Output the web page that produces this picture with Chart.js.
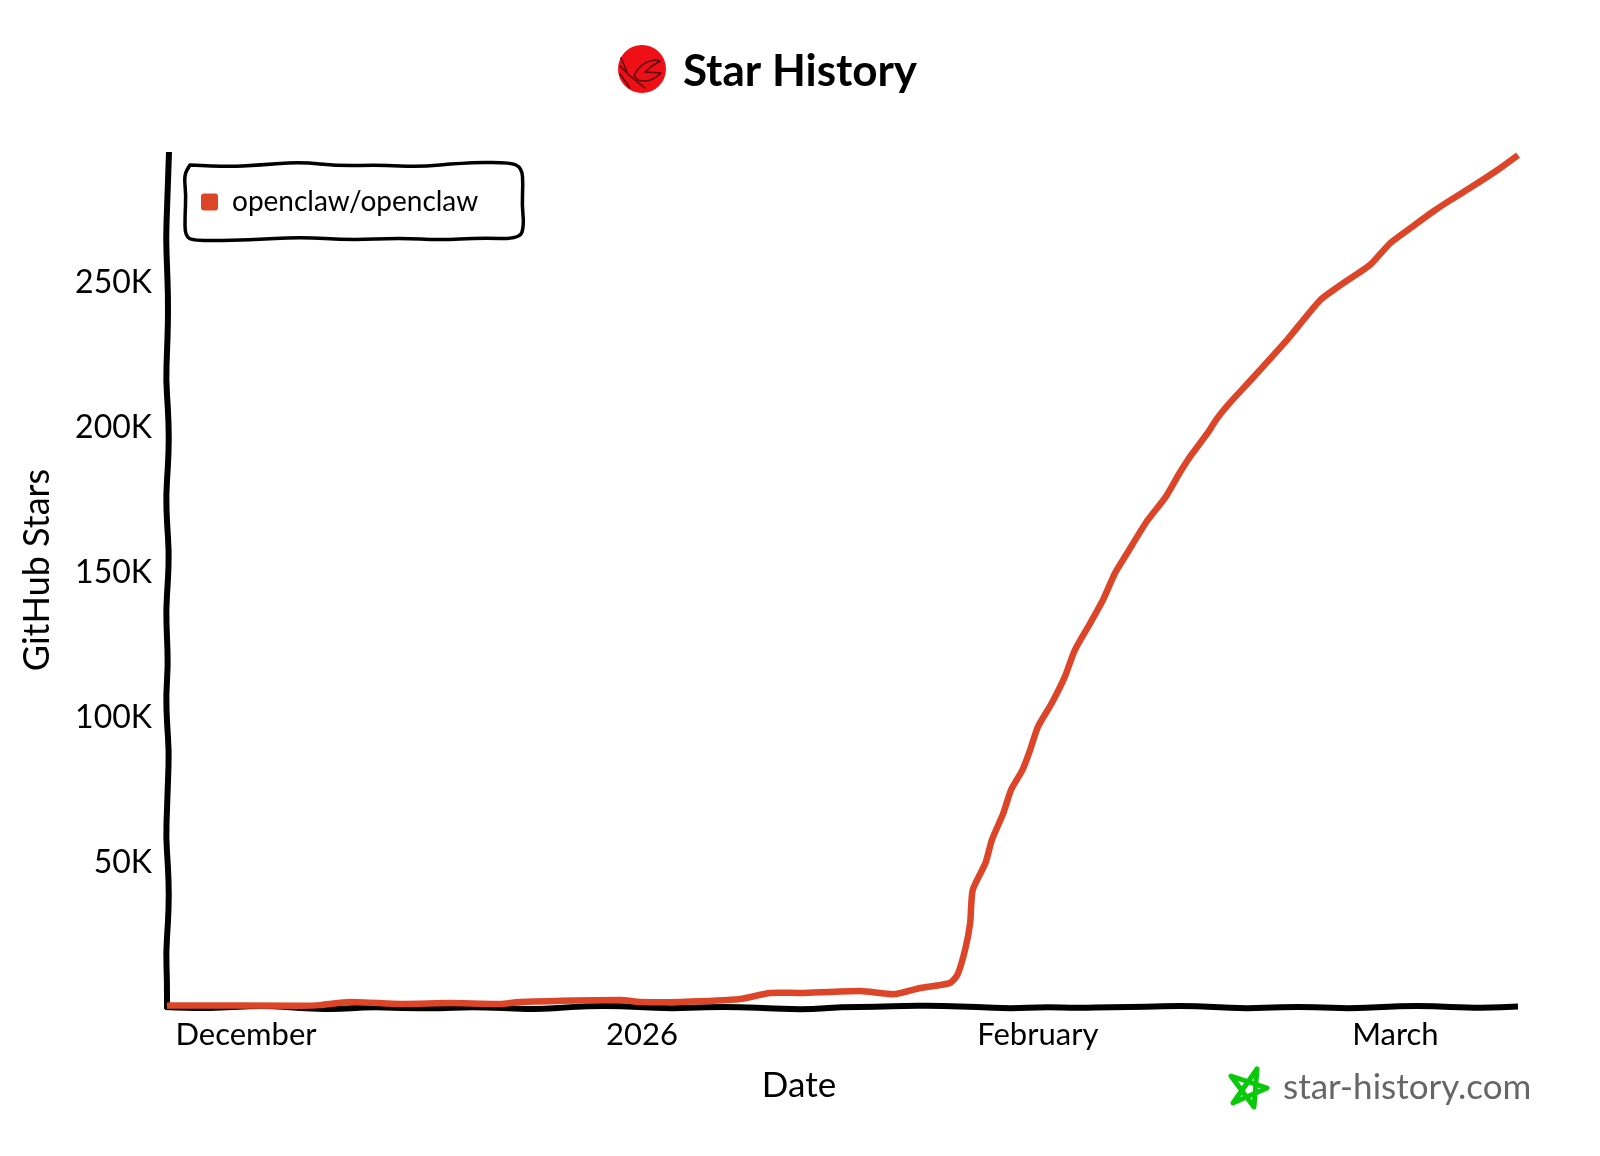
<!DOCTYPE html>
<html><head><meta charset="utf-8">
<script src="https://cdn.jsdelivr.net/npm/chart.js@4"></script>
<style>html,body{margin:0;padding:0;background:#fff}canvas{display:block}</style>
</head><body><canvas id="c" width="1600" height="1156"></canvas>
<script>
// days since 1 December 2025
const days = [-6.19,-5.95,4.23,5.8,8.14,12.06,15.97,19.9,21.46,29.3,30.85,34,38.7,41,43.4,48.1,50.8,52.8,55.1,55.7,56.3,56.7,56.9,57.9,58.4,59.3,59.9,60.8,61.4,62,63.1,64.1,64.9,66.1,67.1,68.05,69,70.5,72,73.1,73.9,75.3,76,77.1,78.9,81.5,84.1,85.7,88,89.6,91.5,92.9,94.3,96.2,98.2,99.6];
// stars, in thousands
const stars = [0.1,0.2,0.1,0.3,1.4,0.7,1.0,0.7,1.4,2.1,1.4,1.4,2.4,4.5,4.5,5.2,4.1,6.2,7.9,10.7,19.3,28.6,40,49.3,57.2,66.5,74.5,81.4,88.3,96.2,104.5,113.4,122.7,132,140,149.3,156.2,166.9,175.5,183.8,189.3,197.6,202.4,208.3,216.9,229.6,243.4,248.6,255.5,263.1,269.3,273.8,277.9,283.1,288.9,293.4];
const seriesName = 'openclaw/openclaw';
const yTicks = [50,100,150,200,250];
const xTickDays = [0,31,62,90];
const xTickLabels = ['December','2026','February','March'];
const FONT = 'Lato';
const INK = '#000';
const RED = '#dd4528';

// small hand-drawn wobble of the axes, in px
const wobbleBottom = [0,1.5,0,-1.5,1,2.5,0,1,1.5,0,1,2.5,0,-1.5,0,1.5,0,0,1.5,2.5,0,0,-1.5,-1,0,1.5,0,1,0,0,-1.5,0,1.5,0,0,1.5,0,-1.5,0,1,-0.5];
const wobbleLeft = [2,1,0,-1,0,1,1,0,-1,1,2,1,-1,0,2,1,-1,0,1,-1,0,2,1,0,-1,1,2,1,-1,0,0];

function smooth(ctx, pts){
  ctx.beginPath();
  ctx.moveTo(pts[0][0],pts[0][1]);
  for(let i=1;i<pts.length-1;i++){
    const mx=(pts[i][0]+pts[i+1][0])/2, my=(pts[i][1]+pts[i+1][1])/2;
    ctx.quadraticCurveTo(pts[i][0],pts[i][1],mx,my);
  }
  const l=pts[pts.length-1];
  ctx.lineTo(l[0],l[1]);
}

const sketchAxes = {
  id:'sketchAxes',
  afterLayout(chart){
    const lg=chart.legend, a=chart.chartArea;
    lg.top=a.top+2; lg.bottom=a.bottom;
    // title is centred on the page, not on the plot
    chart.titleBlock.left=0; chart.titleBlock.right=chart.width;
  },
  beforeDatasetsDraw(chart){
    const {ctx,chartArea:a}=chart;
    ctx.save();
    ctx.strokeStyle=INK; ctx.lineWidth=6; ctx.lineCap='butt'; ctx.lineJoin='round';
    smooth(ctx,wobbleBottom.map((w,i)=>[a.left-2+(a.right-a.left+2)*i/(wobbleBottom.length-1),a.bottom+1+w]));
    ctx.stroke();
    smooth(ctx,wobbleLeft.map((w,i)=>[a.left+w,a.top+(a.bottom-a.top+3)*i/(wobbleLeft.length-1)]));
    ctx.stroke();
    ctx.restore();
  },
  afterDraw(chart){
    const {ctx}=chart;
    ctx.save();
    // axis titles
    ctx.fillStyle=INK; ctx.textAlign='center'; ctx.textBaseline='middle';
    ctx.font='35px '+FONT;
    ctx.fillText('Date',799,1086);
    ctx.save(); ctx.translate(37,570); ctx.rotate(-Math.PI/2);
    ctx.font='36px '+FONT;
    ctx.fillText('GitHub Stars',0,0); ctx.restore();
    // watermark
    ctx.fillStyle='#666'; ctx.textAlign='left';
    ctx.font='35px '+FONT;
    ctx.fillText('star-history.com',1283,1088);
    // star
    ctx.strokeStyle='#0ac80a'; ctx.lineWidth=5; ctx.lineJoin='round'; ctx.lineCap='round';
    ctx.beginPath();
    [[1257,1069],[1254,1107],[1231,1076],[1267,1088],[1233,1103],[1257,1069]].forEach((p,i)=>i?ctx.lineTo(p[0],p[1]):ctx.moveTo(p[0],p[1]));
    ctx.stroke();
    // legend frame
    ctx.strokeStyle=INK; ctx.lineWidth=3.5;
    const f=[[190,165],[225,167],[260,165],[300,162],[340,166],[380,165],[420,167],[460,163],[510,162],[522,168],[523,185],[522,205],[524,225],[520,239],[480,238],[440,240],[400,238],[350,240],[300,237],[250,240],[194,241],[185,236],[185,215],[186,195],[184,175],[190,165]];
    smooth(ctx,f); ctx.closePath(); ctx.stroke();
    // logo
    ctx.fillStyle='#ee0f17';
    ctx.beginPath(); ctx.arc(642,69,24,0,Math.PI*2); ctx.fill();
    ctx.strokeStyle='#5a0a0c'; ctx.lineWidth=1.6;
    ctx.beginPath();
    ctx.moveTo(620,66); ctx.lineTo(630,76); ctx.lineTo(645,88);
    ctx.moveTo(621,58); ctx.lineTo(627,72);
    ctx.moveTo(634,76); ctx.quadraticCurveTo(640,62,655,60);
    ctx.lineTo(660,61); ctx.lineTo(652,66); ctx.lineTo(645,72); ctx.lineTo(661,73);
    ctx.quadraticCurveTo(650,84,638,80); ctx.lineTo(634,76);
    ctx.moveTo(620,74); ctx.lineTo(630,88);
    ctx.stroke();
    ctx.restore();
  }
};

new Chart(document.getElementById('c'),{
  type:'line',
  plugins:[sketchAxes],
  data:{datasets:[{
    label:seriesName,
    data:days.map((d,i)=>({x:d,y:stars[i]})),
    borderColor:RED, backgroundColor:RED, borderWidth:6.5,
    pointRadius:0, tension:0.2, borderCapStyle:'butt', borderJoinStyle:'round', clip:false
  }]},
  options:{
    responsive:false, animation:false,
    layout:{padding:{left:0,right:82,top:0,bottom:0}},
    plugins:{
      title:{display:true,text:'Star History',color:INK,align:'center',
        font:{family:FONT,size:44,weight:'bold',lineHeight:1},padding:{top:50,bottom:58}},
      legend:{position:'chartArea',align:'start',
        labels:{color:INK,font:{family:FONT,size:28},boxWidth:17,boxHeight:17,padding:34,
          useBorderRadius:true,borderRadius:3,
          generateLabels(chart){
            return Chart.defaults.plugins.legend.labels.generateLabels(chart).map(l=>({...l,lineWidth:0,fillStyle:RED}));
          }}},
      tooltip:{enabled:false}
    },
    scales:{
      x:{type:'linear',min:-6.19,max:99.6,
        grid:{display:false},border:{display:false},
        afterBuildTicks(s){s.ticks=xTickDays.map(v=>({value:v}));},
        afterFit(s){s.height=150;},
        ticks:{color:INK,font:{family:FONT,size:31},padding:2,maxRotation:0,autoSkip:false,
          callback(v){return xTickLabels[xTickDays.indexOf(v)];}}},
      y:{type:'linear',min:0,max:294.5,
        grid:{display:false},border:{display:false},
        afterBuildTicks(s){s.ticks=yTicks.map(v=>({value:v}));},
        afterFit(s){s.width=167;},
        ticks:{color:INK,font:{family:FONT,size:32},padding:7,labelOffset:2,
          callback(v){return v+'K';}}}
    }
  }
});
</script></body></html>
